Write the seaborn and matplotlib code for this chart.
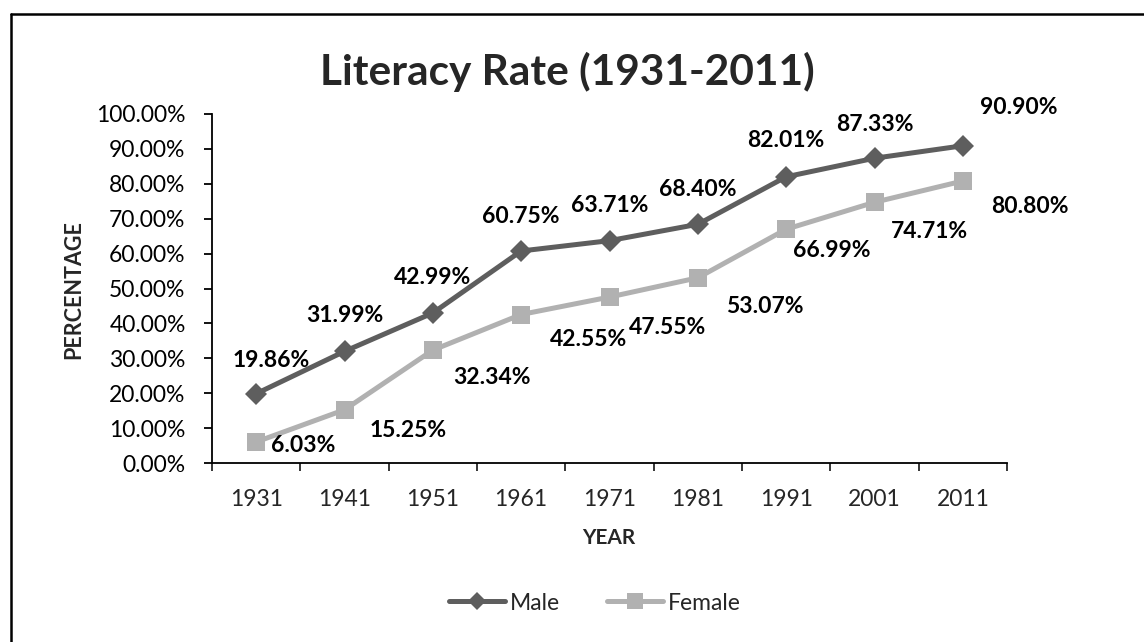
import matplotlib
matplotlib.use("Agg")
import matplotlib.pyplot as plt
from matplotlib.ticker import FixedLocator, FuncFormatter, MultipleLocator
from matplotlib.lines import Line2D
import seaborn as sns
import pandas as pd

# ---- data ----
years = ["1931", "1941", "1951", "1961", "1971", "1981", "1991", "2001", "2011"]
male = [19.86, 31.99, 42.99, 60.75, 63.71, 68.40, 82.01, 87.33, 90.90]
female = [6.03, 15.25, 32.34, 42.55, 47.55, 53.07, 66.99, 74.71, 80.80]

# label offsets (pixels) -- styling only
male_off = [(15, 33), (0, 36), (0, 35), (0, 34), (0, 35), (0, 35), (0, 36), (0, 34), (56, 38)]
female_off = [(47, -4), (64, -21), (59, -27), (67, -25), (58, -30), (67, -29), (46, -21), (55, -29), (67, -25)]

sns.set_style("white")
plt.rcParams["font.family"] = ["Lato", "DejaVu Sans"]

W, H = 1144, 642
fig = plt.figure(figsize=(W / 100, H / 100), dpi=100)
ax = fig.add_axes([212 / W, 1 - 463 / H, (1007 - 212) / W, (463 - 114) / H])

df = pd.DataFrame({
    "idx": list(range(len(years))) * 2,
    "value": male + female,
    "Sex": ["Male"] * len(years) + ["Female"] * len(years),
})
c_male = "#5e5e5e"
c_female = "#b1b1b1"

sns.lineplot(data=df[df.Sex == "Male"], x="idx", y="value", color=c_male, lw=3.6,
             marker="D", markersize=11, markeredgewidth=0, ax=ax, legend=False)
sns.lineplot(data=df[df.Sex == "Female"], x="idx", y="value", color=c_female, lw=3.6,
             marker="s", markersize=13, markeredgewidth=0, ax=ax, legend=False)

ax.set_xlim(-0.5, len(years) - 0.5)
ax.set_ylim(0, 100)

# y axis
ax.yaxis.set_major_locator(MultipleLocator(10))
ax.yaxis.set_major_formatter(FuncFormatter(lambda v, p: f"{v:.2f}%"))
ax.tick_params(axis="y", which="major", direction="out", length=6, width=1.3,
               labelsize=16.5, pad=13, colors="black", left=True)

# x axis: ticks between categories, labels at categories
ax.xaxis.set_major_locator(FixedLocator([i - 0.5 for i in range(len(years) + 1)]))
ax.xaxis.set_major_formatter(FuncFormatter(lambda v, p: ""))
ax.xaxis.set_minor_locator(FixedLocator(list(range(len(years)))))
ax.set_xticklabels(years, minor=True)
ax.tick_params(axis="x", which="major", direction="out", length=6, width=1.3, bottom=True)
ax.tick_params(axis="x", which="minor", length=0, labelsize=16.5, pad=19, bottom=True)

for s in ["top", "right"]:
    ax.spines[s].set_visible(False)
for s in ["left", "bottom"]:
    ax.spines[s].set_color("black")
    ax.spines[s].set_linewidth(1.3)
ax.set_xlabel("")
ax.set_ylabel("")

# data labels
for i, (v, o) in enumerate(zip(male, male_off)):
    ax.annotate(f"{v:.2f}%", (i, v), xytext=o, textcoords="offset pixels",
                ha="center", va="center", fontsize=16.5, fontweight="bold", color="black")
for i, (v, o) in enumerate(zip(female, female_off)):
    ax.annotate(f"{v:.2f}%", (i, v), xytext=o, textcoords="offset pixels",
                ha="center", va="center", fontsize=16.5, fontweight="bold", color="black")

# titles
fig.text(567 / W, 1 - 85 / H, "Literacy Rate (1931-2011)", ha="center", va="baseline",
         fontsize=30.5, fontweight="bold")
fig.text(609 / W, 1 - 538 / H, "YEAR", ha="center", va="center", fontsize=15, fontweight="bold")
fig.text(74 / W, 1 - 290 / H, "PERCENTAGE", ha="center", va="center", rotation=90,
         fontsize=15.5, fontweight="bold")

# legend
handles = [
    Line2D([], [], color=c_male, lw=3.6, marker="D", markersize=9, markeredgewidth=0),
    Line2D([], [], color=c_female, lw=3.6, marker="s", markersize=11, markeredgewidth=0),
]
fig.legend(handles, ["Male", "Female"], loc="center", bbox_to_anchor=(595 / W, 1 - 603 / H),
           ncol=2, frameon=False, fontsize=16.5, handlelength=2.45, handletextpad=0.2,
           columnspacing=2.05)

# frame lines (left and top only visible)
fig.add_artist(Line2D([11 / W, 11 / W], [0, 1 - 14 / H], color="black", lw=1.8,
                      transform=fig.transFigure))
fig.add_artist(Line2D([11 / W, 1], [1 - 14 / H, 1 - 14 / H], color="black", lw=1.8,
                      transform=fig.transFigure))

fig.savefig("out.png", dpi=100, facecolor="white")
